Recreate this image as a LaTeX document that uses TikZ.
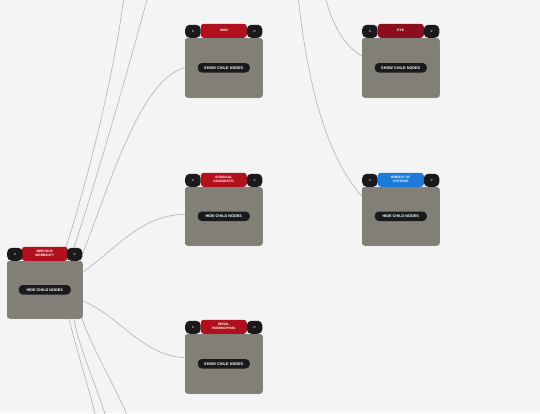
\documentclass[tikz,border=0pt]{standalone}
\usepackage{fontspec}
\setsansfont{Liberation Sans}
\usetikzlibrary{shadows}
\definecolor{bgc}{RGB}{244,244,244}
\definecolor{bodyc}{RGB}{130,128,118}
\definecolor{bordc}{RGB}{108,106,100}
\definecolor{redc}{RGB}{178,16,28}
\definecolor{dredc}{RGB}{140,14,30}
\definecolor{bluec}{RGB}{30,122,216}
\definecolor{knobc}{RGB}{26,26,28}
\definecolor{linkc}{RGB}{178,178,178}
\pgfdeclarelayer{bgfill}
\pgfdeclarelayer{bg}
\pgfsetlayers{bgfill,bg,main}
\tikzset{
  body/.style={draw=bordc, line width=0.5pt, fill=bodyc, rounded corners=2.5pt, anchor=north west, inner sep=0pt,
    drop shadow={opacity=0.25, shadow xshift=0.6pt, shadow yshift=-0.9pt}},
  knob/.style={fill=knobc, rounded corners=4.5pt, minimum width=15.5pt, minimum height=13pt, inner sep=0pt,
    text=white, font=\sffamily\bfseries\fontsize{3.5}{4}\selectfont},
  tabbox/.style={rounded corners=3pt, minimum width=46pt, minimum height=14pt, inner sep=0pt,
    text=white, align=center, font=\sffamily\bfseries\fontsize{3.3}{3.9}\selectfont},
  btn/.style={fill=knobc, rounded corners=4pt, minimum width=52pt, minimum height=9.5pt, inner sep=0pt,
    text=white, font=\sffamily\bfseries\fontsize{3.8}{4.4}\selectfont},
  link/.style={draw=linkc, line width=0.6pt},
}
\newcommand\tnode[8]{%
  \node[body, minimum width=#4pt, minimum height=#5pt] (#1) at (#2,#3) {};
  \node[tabbox, fill=#6, anchor=south] (#1-tab) at (#1.north) {#7};
  \node[knob, anchor=south west] (#1-l) at (#1.north west) {<};
  \node[knob, anchor=south east] (#1-r) at (#1.north east) {>};
  \node[btn] (#1-btn) at (#1.center) {#8};
}
\begin{document}
\begin{tikzpicture}[x=1pt,y=-1pt]
  \begin{pgfonlayer}{bgfill}
    \fill[bgc] (0,0) rectangle (540,413);
  \end{pgfonlayer}
  \useasboundingbox (0,0) rectangle (540,413);

  \tnode{root}{7}{261}{75}{57}{redc}{NERVOUS\\MORBIDITY}{HIDE CHILD NODES}
  \tnode{skin}{185}{38}{77}{59}{redc}{SKIN}{SHOW CHILD NODES}
  \tnode{surg}{185}{187}{77}{58}{redc}{SURGICAL\\DIAGNOSTIC}{HIDE CHILD NODES}
  \tnode{renal}{185}{334}{77}{59}{redc}{RENAL\\PARENCHYMA}{SHOW CHILD NODES}
  \tnode{eye}{362}{38}{77}{59}{dredc}{EYE}{SHOW CHILD NODES}
  \tnode{breast}{362}{187}{77}{58}{bluec}{BREAST OF\\SYSTEMS}{HIDE CHILD NODES}

  \coordinate (t1) at (124,-4);
  \coordinate (t2) at (148,-4);
  \coordinate (t3) at (298,-4);
  \coordinate (t4) at (325,-4);
  \coordinate (b1) at (96,417);
  \coordinate (b2) at (106,417);
  \coordinate (b3) at (128,417);

  \begin{pgfonlayer}{bg}
    \draw[link] ([shift={(-18,-9)}]root.north east) .. controls (88,180) and (115,70) .. (t1);
    \draw[link] ([shift={(-10,-9)}]root.north east) .. controls (98,175) and (128,70) .. (t2);
    \draw[link] ([shift={(0,-7)}]root.north east) .. controls (108,190) and (140,78) .. (skin.west);
    \draw[link] ([shift={(-2,13)}]root.north east) .. controls (115,250) and (140,215) .. ([shift={(0,-2)}]surg.west);
    \draw[link] ([shift={(-2,39)}]root.north east) .. controls (120,315) and (140,355) .. ([shift={(0,-6)}]renal.west);
    \draw[link] ([shift={(-14,-2)}]root.south east) .. controls (75,345) and (88,385) .. (b1);
    \draw[link] ([shift={(-9,-2)}]root.south east) .. controls (78,345) and (96,385) .. (b2);
    \draw[link] ([shift={(-1,-2)}]root.south east) .. controls (88,340) and (112,380) .. (b3);
    \draw[link] (t4) .. controls (332,25) and (345,47) .. ([shift={(0,-12)}]eye.west);
    \draw[link] (t3) .. controls (305,60) and (320,150) .. ([shift={(0,-20)}]breast.west);
  \end{pgfonlayer}
\end{tikzpicture}
\end{document}
